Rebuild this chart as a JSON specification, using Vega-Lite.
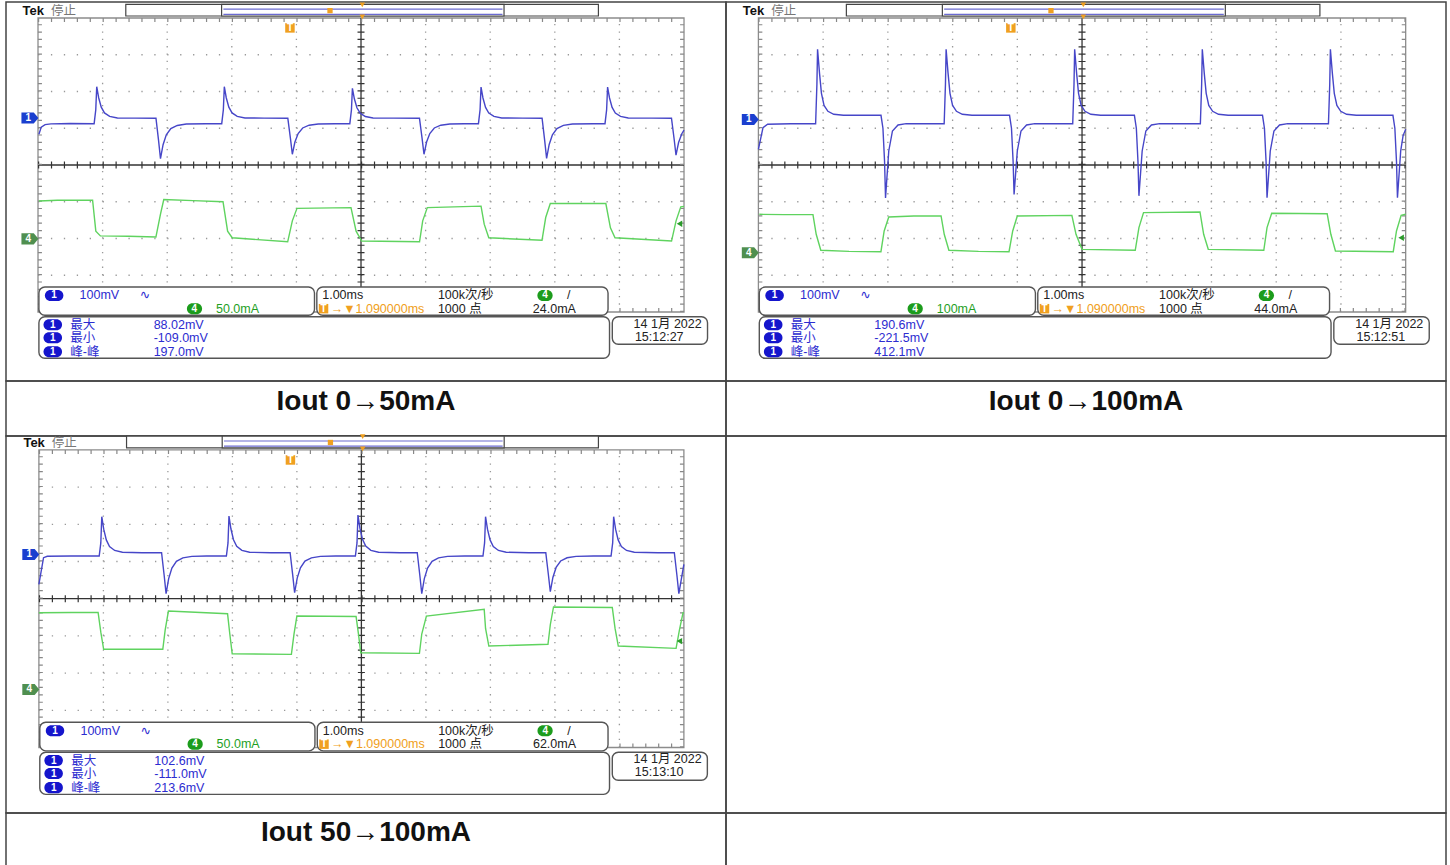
{
"$schema":"https://vega.github.io/schema/vega-lite/v6.json",
"background":"white",
"padding":{"left":5,"top":1,"right":5,"bottom":0},
"columns":2,
"spacing":0,
"bounds":"flush",
"resolve":{"scale":{"x":"independent","y":"independent"}},
"config":{"view":{"stroke":"#444444","strokeWidth":1.5},"concat":{"spacing":0}},
"datasets":{
"grid":[
{"k":"gv","t":1,"t2":1,"v":-4,"v2":4},{"k":"gv","t":2,"t2":2,"v":-4,"v2":4},{"k":"gv","t":3,"t2":3,"v":-4,"v2":4},{"k":"gv","t":4,"t2":4,"v":-4,"v2":4},
{"k":"gv","t":6,"t2":6,"v":-4,"v2":4},{"k":"gv","t":7,"t2":7,"v":-4,"v2":4},{"k":"gv","t":8,"t2":8,"v":-4,"v2":4},{"k":"gv","t":9,"t2":9,"v":-4,"v2":4},
{"k":"gh","t":0,"t2":10,"v":-3,"v2":-3},{"k":"gh","t":0,"t2":10,"v":-2,"v2":-2},{"k":"gh","t":0,"t2":10,"v":-1,"v2":-1},
{"k":"gh","t":0,"t2":10,"v":1,"v2":1},{"k":"gh","t":0,"t2":10,"v":2,"v2":2},{"k":"gh","t":0,"t2":10,"v":3,"v2":3},
{"k":"c","t":5,"t2":5,"v":-4,"v2":4},{"k":"c","t":0,"t2":10,"v":0,"v2":0},
{"k":"tv","t":5,"t2":5,"v":-4,"v2":4},{"k":"th","t":0,"t2":10,"v":0,"v2":0},
{"k":"ev","t":0.03,"t2":0.03,"v":-4,"v2":4},{"k":"ev","t":9.97,"t2":9.97,"v":-4,"v2":4},
{"k":"eh","t":0,"t2":10,"v":3.945,"v2":3.945},{"k":"eh","t":0,"t2":10,"v":-3.945,"v2":-3.945},
{"k":"bd","t":0,"t2":10,"v":-4,"v2":4},
{"k":"rb","t":1.359,"t2":8.675,"v":4.054,"v2":4.373},{"k":"rb","t":2.842,"t2":7.214,"v":4.054,"v2":4.373},
{"k":"rl","t":2.87,"t2":7.19,"v":4.1,"v2":4.1},{"k":"rl","t":2.87,"t2":7.19,"v":4.24,"v2":4.24},
{"k":"bx","t":0.014,"t2":4.28,"v":-3.32,"v2":-4.09},{"k":"bx","t":4.316,"t2":8.824,"v":-3.32,"v2":-4.09},
{"k":"bx","t":0.014,"t2":8.847,"v":-4.128,"v2":-5.26},{"k":"bx","t":8.89,"t2":10.364,"v":-4.128,"v2":-4.879},
{"k":"o1","t":0.107,"t2":0.393,"v":-3.4,"v2":-3.7},{"k":"o1","t":0.085,"t2":0.372,"v":-4.2,"v2":-4.5},
{"k":"o1","t":0.085,"t2":0.372,"v":-4.55,"v2":-4.85},{"k":"o1","t":0.085,"t2":0.372,"v":-4.93,"v2":-5.23},
{"k":"o4","t":2.305,"t2":2.54,"v":-3.76,"v2":-4.06},{"k":"o4","t":7.73,"t2":7.966,"v":-3.4,"v2":-3.7},
{"k":"osq","t":3.9,"v":3.73},{"k":"osq","t":4.42,"v":-3.91},
{"k":"osm","t":4.52,"v":4.2},
{"k":"otr","t":5.02,"v":4.03},{"k":"otr","t":5.02,"v":4.36}
],
"pm":[
{"p":1,"k":"tag1","t":-0.125,"v":1.28},{"p":1,"k":"tag4","t":-0.125,"v":-2.01},{"p":1,"k":"trig","t":9.93,"v":-1.6},
{"p":2,"k":"tag1","t":-0.125,"v":1.24},{"p":2,"k":"tag4","t":-0.125,"v":-2.39},{"p":2,"k":"trig","t":9.93,"v":-1.98},
{"p":3,"k":"tag1","t":-0.125,"v":1.19},{"p":3,"k":"tag4","t":-0.125,"v":-2.44},{"p":3,"k":"trig","t":9.93,"v":-1.14}
],
"txt":[
{"p":0,"r":"tek","t":-0.24,"v":4.19,"s":"Tek"},
{"p":0,"r":"ts","t":0.2,"v":4.19,"s":"停止"},
{"p":0,"r":"w","t":0.25,"v":-3.55,"s":"1"},
{"p":0,"r":"tb","t":0.644,"v":-3.55,"s":"100mV"},
{"p":0,"r":"tb","t":1.574,"v":-3.55,"s":"∿"},
{"p":0,"r":"w","t":2.42,"v":-3.91,"s":"4"},
{"p":0,"r":"tk","t":4.4,"v":-3.55,"s":"1.00ms"},
{"p":0,"r":"tk","t":6.19,"v":-3.55,"s":"100k次/秒"},
{"p":0,"r":"w","t":7.85,"v":-3.55,"s":"4"},
{"p":0,"r":"tk","t":8.19,"v":-3.55,"s":"/"},
{"p":0,"r":"w","t":4.42,"v":-3.91,"s":"T"},
{"p":0,"r":"to","t":4.53,"v":-3.91,"s":"→▼1.090000ms"},
{"p":0,"r":"tk","t":6.19,"v":-3.91,"s":"1000 点"},
{"p":0,"r":"w","t":0.23,"v":-4.35,"s":"1"},{"p":0,"r":"w","t":0.23,"v":-4.7,"s":"1"},{"p":0,"r":"w","t":0.23,"v":-5.08,"s":"1"},
{"p":0,"r":"tb","t":0.5,"v":-4.35,"s":"最大"},{"p":0,"r":"tb","t":0.5,"v":-4.7,"s":"最小"},{"p":0,"r":"tb","t":0.5,"v":-5.08,"s":"峰-峰"},
{"p":0,"r":"tk","t":9.22,"v":-4.32,"s":"14 1月 2022"},
{"p":0,"r":"w","t":3.9,"v":3.73,"s":"T"},
{"p":1,"r":"tg","t":2.755,"v":-3.91,"s":"50.0mA"},
{"p":1,"r":"tk","t":7.66,"v":-3.91,"s":"24.0mA"},
{"p":1,"r":"tb","t":1.79,"v":-4.35,"s":"88.02mV"},{"p":1,"r":"tb","t":1.79,"v":-4.7,"s":"-109.0mV"},{"p":1,"r":"tb","t":1.79,"v":-5.08,"s":"197.0mV"},
{"p":1,"r":"tk","t":9.24,"v":-4.67,"s":"15:12:27"},
{"p":1,"r":"w","t":-0.15,"v":1.28,"s":"1"},{"p":1,"r":"w","t":-0.15,"v":-2.01,"s":"4"},
{"p":2,"r":"tg","t":2.755,"v":-3.91,"s":"100mA"},
{"p":2,"r":"tk","t":7.66,"v":-3.91,"s":"44.0mA"},
{"p":2,"r":"tb","t":1.79,"v":-4.35,"s":"190.6mV"},{"p":2,"r":"tb","t":1.79,"v":-4.7,"s":"-221.5mV"},{"p":2,"r":"tb","t":1.79,"v":-5.08,"s":"412.1mV"},
{"p":2,"r":"tk","t":9.24,"v":-4.67,"s":"15:12:51"},
{"p":2,"r":"w","t":-0.15,"v":1.24,"s":"1"},{"p":2,"r":"w","t":-0.15,"v":-2.39,"s":"4"},
{"p":3,"r":"tg","t":2.755,"v":-3.91,"s":"50.0mA"},
{"p":3,"r":"tk","t":7.66,"v":-3.91,"s":"62.0mA"},
{"p":3,"r":"tb","t":1.79,"v":-4.35,"s":"102.6mV"},{"p":3,"r":"tb","t":1.79,"v":-4.7,"s":"-111.0mV"},{"p":3,"r":"tb","t":1.79,"v":-5.08,"s":"213.6mV"},
{"p":3,"r":"tk","t":9.24,"v":-4.67,"s":"15:13:10"},
{"p":3,"r":"w","t":-0.15,"v":1.19,"s":"1"},{"p":3,"r":"w","t":-0.15,"v":-2.44,"s":"4"}
],
"cap":[
{"p":1,"t":0.5,"v":0.5,"s":"Iout 0→50mA"},
{"p":2,"t":0.5,"v":0.5,"s":"Iout 0→100mA"},
{"p":3,"t":0.5,"v":0.5,"s":"Iout 50→100mA"},
{"p":4,"t":0.5,"v":0.5,"s":""}
],
"b1":[
{"t":0.014,"v":0.835},{"t":0.05,"v":1.03},{"t":0.11,"v":1.1},{"t":0.2,"v":1.12},{"t":0.5,"v":1.13},{"t":0.869,"v":1.124},{"t":0.894,"v":1.5},{"t":0.909,"v":2.131},{"t":0.939,"v":1.83},{"t":0.979,"v":1.572},{"t":1.029,"v":1.417},{"t":1.109,"v":1.323},{"t":1.229,"v":1.28},{"t":1.5,"v":1.275},
{"t":1.826,"v":1.271},{"t":1.866,"v":0.67},{"t":1.896,"v":0.171},{"t":1.936,"v":0.552},{"t":1.986,"v":0.819},{"t":2.056,"v":0.99},{"t":2.156,"v":1.076},{"t":2.296,"v":1.114},{"t":2.6,"v":1.124},
{"t":2.844,"v":1.124},{"t":2.869,"v":1.5},{"t":2.884,"v":2.131},{"t":2.914,"v":1.83},{"t":2.954,"v":1.572},{"t":3.004,"v":1.417},{"t":3.084,"v":1.323},{"t":3.204,"v":1.28},{"t":3.5,"v":1.275},
{"t":3.867,"v":1.271},{"t":3.907,"v":0.732},{"t":3.937,"v":0.291},{"t":3.977,"v":0.624},{"t":4.027,"v":0.857},{"t":4.097,"v":1.007},{"t":4.197,"v":1.082},{"t":4.337,"v":1.116},{"t":4.6,"v":1.124},
{"t":4.827,"v":1.124},{"t":4.852,"v":1.5},{"t":4.867,"v":2.087},{"t":4.897,"v":1.801},{"t":4.937,"v":1.557},{"t":4.987,"v":1.41},{"t":5.067,"v":1.32},{"t":5.187,"v":1.279},{"t":5.5,"v":1.275},
{"t":5.905,"v":1.271},{"t":5.945,"v":0.732},{"t":5.975,"v":0.291},{"t":6.015,"v":0.624},{"t":6.065,"v":0.857},{"t":6.135,"v":1.007},{"t":6.235,"v":1.082},{"t":6.375,"v":1.116},{"t":6.6,"v":1.124},
{"t":6.818,"v":1.124},{"t":6.843,"v":1.5},{"t":6.858,"v":2.12},{"t":6.888,"v":1.823},{"t":6.928,"v":1.568},{"t":6.978,"v":1.415},{"t":7.058,"v":1.322},{"t":7.178,"v":1.28},{"t":7.5,"v":1.275},
{"t":7.803,"v":1.271},{"t":7.843,"v":0.671},{"t":7.873,"v":0.18},{"t":7.913,"v":0.558},{"t":7.963,"v":0.822},{"t":8.033,"v":0.992},{"t":8.133,"v":1.077},{"t":8.273,"v":1.115},{"t":8.6,"v":1.124},
{"t":8.777,"v":1.124},{"t":8.802,"v":1.5},{"t":8.817,"v":2.12},{"t":8.847,"v":1.823},{"t":8.887,"v":1.568},{"t":8.937,"v":1.415},{"t":9.017,"v":1.322},{"t":9.137,"v":1.28},{"t":9.5,"v":1.275},
{"t":9.806,"v":1.271},{"t":9.846,"v":0.72},{"t":9.876,"v":0.27},{"t":9.916,"v":0.612},{"t":9.966,"v":0.851},{"t":10.0,"v":0.95}
],
"g1":[
{"t":0.014,"v":-0.98},{"t":0.3,"v":-0.96},{"t":0.845,"v":-0.96},{"t":0.895,"v":-1.8},{"t":0.966,"v":-1.93},{"t":1.4,"v":-1.94},{"t":1.825,"v":-1.96},{"t":1.896,"v":-1.34},{"t":1.947,"v":-0.94},{"t":2.4,"v":-0.97},{"t":2.864,"v":-1.0},
{"t":2.935,"v":-1.8},{"t":3.006,"v":-1.98},{"t":3.865,"v":-2.09},{"t":3.937,"v":-1.52},{"t":4.009,"v":-1.18},{"t":4.845,"v":-1.16},{"t":4.924,"v":-1.8},{"t":5.011,"v":-2.07},{"t":5.906,"v":-2.09},
{"t":5.955,"v":-1.52},{"t":6.026,"v":-1.16},{"t":6.858,"v":-1.12},{"t":6.907,"v":-1.61},{"t":6.978,"v":-1.98},{"t":7.802,"v":-2.05},{"t":7.859,"v":-1.43},{"t":7.93,"v":-1.05},{"t":8.79,"v":-1.05},
{"t":8.861,"v":-1.71},{"t":8.932,"v":-1.98},{"t":9.807,"v":-2.07},{"t":9.877,"v":-1.52},{"t":9.95,"v":-1.14},{"t":10.0,"v":-1.13}
],
"b2":[
{"t":0.0,"v":0.427},{"t":0.071,"v":1.015},{"t":0.142,"v":1.107},{"t":0.5,"v":1.124},{"t":0.884,"v":1.124},{"t":0.904,"v":2.2},{"t":0.914,"v":3.148},{"t":0.944,"v":2.5},{"t":0.974,"v":1.95},{"t":1.014,"v":1.62},{"t":1.074,"v":1.46},{"t":1.164,"v":1.38},{"t":1.314,"v":1.355},
{"t":1.894,"v":1.352},{"t":1.924,"v":1.0},{"t":1.949,"v":0.1},{"t":1.964,"v":-0.9},{"t":2.014,"v":0.381},{"t":2.071,"v":0.925},{"t":2.157,"v":1.088},{"t":2.284,"v":1.124},
{"t":2.87,"v":1.124},{"t":2.89,"v":2.2},{"t":2.9,"v":3.148},{"t":2.93,"v":2.5},{"t":2.96,"v":1.95},{"t":3.0,"v":1.62},{"t":3.06,"v":1.46},{"t":3.15,"v":1.38},{"t":3.3,"v":1.355},
{"t":3.88,"v":1.352},{"t":3.91,"v":1.0},{"t":3.935,"v":0.1},{"t":3.95,"v":-0.8},{"t":4.0,"v":0.381},{"t":4.057,"v":0.925},{"t":4.143,"v":1.088},{"t":4.27,"v":1.124},
{"t":4.856,"v":1.124},{"t":4.876,"v":2.2},{"t":4.886,"v":3.148},{"t":4.916,"v":2.5},{"t":4.946,"v":1.95},{"t":4.986,"v":1.62},{"t":5.046,"v":1.46},{"t":5.136,"v":1.38},{"t":5.286,"v":1.355},
{"t":5.809,"v":1.352},{"t":5.839,"v":1.0},{"t":5.864,"v":0.1},{"t":5.879,"v":-0.84},{"t":5.929,"v":0.381},{"t":5.986,"v":0.925},{"t":6.072,"v":1.088},{"t":6.199,"v":1.124},
{"t":6.828,"v":1.124},{"t":6.848,"v":2.2},{"t":6.858,"v":3.148},{"t":6.888,"v":2.5},{"t":6.918,"v":1.95},{"t":6.958,"v":1.62},{"t":7.018,"v":1.46},{"t":7.108,"v":1.38},{"t":7.258,"v":1.355},
{"t":7.788,"v":1.352},{"t":7.818,"v":1.0},{"t":7.843,"v":0.1},{"t":7.858,"v":-0.89},{"t":7.908,"v":0.381},{"t":7.965,"v":0.925},{"t":8.051,"v":1.088},{"t":8.178,"v":1.124},
{"t":8.807,"v":1.124},{"t":8.827,"v":2.2},{"t":8.837,"v":3.148},{"t":8.867,"v":2.5},{"t":8.897,"v":1.95},{"t":8.937,"v":1.62},{"t":8.997,"v":1.46},{"t":9.087,"v":1.38},{"t":9.237,"v":1.355},
{"t":9.803,"v":1.352},{"t":9.833,"v":1.0},{"t":9.858,"v":0.1},{"t":9.873,"v":-0.89},{"t":9.923,"v":0.381},{"t":9.96,"v":0.8},{"t":10.0,"v":0.97}
],
"g2":[
{"t":0.014,"v":-1.342},{"t":0.4,"v":-1.35},{"t":0.843,"v":-1.35},{"t":0.893,"v":-1.886},{"t":0.964,"v":-2.322},{"t":1.4,"v":-2.35},{"t":1.893,"v":-2.36},{"t":1.943,"v":-1.796},{"t":2.014,"v":-1.415},{"t":2.4,"v":-1.39},{"t":2.822,"v":-1.388},
{"t":2.871,"v":-1.886},{"t":2.943,"v":-2.322},{"t":3.4,"v":-2.35},{"t":3.872,"v":-2.36},{"t":3.929,"v":-1.796},{"t":4.0,"v":-1.388},{"t":4.843,"v":-1.37},{"t":4.907,"v":-1.886},{"t":5.0,"v":-2.295},{"t":5.822,"v":-2.322},
{"t":5.879,"v":-1.705},{"t":5.95,"v":-1.297},{"t":6.822,"v":-1.279},{"t":6.879,"v":-1.886},{"t":6.95,"v":-2.295},{"t":7.808,"v":-2.322},{"t":7.858,"v":-1.705},{"t":7.93,"v":-1.315},{"t":8.787,"v":-1.325},
{"t":8.844,"v":-1.886},{"t":8.915,"v":-2.34},{"t":9.808,"v":-2.36},{"t":9.858,"v":-1.796},{"t":9.93,"v":-1.37},{"t":10.0,"v":-1.342}
],
"b3":[
{"t":0.0,"v":0.387},{"t":0.072,"v":1.102},{"t":0.13,"v":1.14},{"t":0.5,"v":1.148},{"t":0.935,"v":1.148},{"t":0.96,"v":1.5},{"t":0.975,"v":2.204},{"t":1.005,"v":1.87},{"t":1.045,"v":1.58},{"t":1.095,"v":1.405},{"t":1.175,"v":1.297},{"t":1.295,"v":1.248},{"t":1.6,"v":1.237},
{"t":1.902,"v":1.237},{"t":1.942,"v":0.63},{"t":1.972,"v":0.134},{"t":2.012,"v":0.54},{"t":2.062,"v":0.824},{"t":2.132,"v":1.006},{"t":2.232,"v":1.097},{"t":2.372,"v":1.138},{"t":2.6,"v":1.148},
{"t":2.907,"v":1.148},{"t":2.932,"v":1.5},{"t":2.947,"v":2.223},{"t":2.977,"v":1.88},{"t":3.017,"v":1.586},{"t":3.067,"v":1.409},{"t":3.147,"v":1.298},{"t":3.267,"v":1.249},{"t":3.6,"v":1.237},
{"t":3.895,"v":1.237},{"t":3.935,"v":0.64},{"t":3.965,"v":0.16},{"t":4.005,"v":0.555},{"t":4.055,"v":0.832},{"t":4.125,"v":1.01},{"t":4.225,"v":1.098},{"t":4.365,"v":1.138},{"t":4.6,"v":1.148},
{"t":4.907,"v":1.148},{"t":4.932,"v":1.5},{"t":4.947,"v":2.25},{"t":4.977,"v":1.895},{"t":5.017,"v":1.595},{"t":5.067,"v":1.413},{"t":5.147,"v":1.3},{"t":5.267,"v":1.25},{"t":5.6,"v":1.237},
{"t":5.866,"v":1.237},{"t":5.906,"v":0.63},{"t":5.936,"v":0.134},{"t":5.976,"v":0.54},{"t":6.026,"v":0.824},{"t":6.096,"v":1.006},{"t":6.196,"v":1.097},{"t":6.336,"v":1.138},{"t":6.6,"v":1.148},
{"t":6.885,"v":1.148},{"t":6.91,"v":1.5},{"t":6.925,"v":2.204},{"t":6.955,"v":1.87},{"t":6.995,"v":1.58},{"t":7.045,"v":1.405},{"t":7.125,"v":1.297},{"t":7.245,"v":1.248},{"t":7.6,"v":1.237},
{"t":7.859,"v":1.237},{"t":7.899,"v":0.65},{"t":7.929,"v":0.188},{"t":7.969,"v":0.572},{"t":8.019,"v":0.841},{"t":8.089,"v":1.014},{"t":8.189,"v":1.1},{"t":8.329,"v":1.138},{"t":8.6,"v":1.148},
{"t":8.871,"v":1.148},{"t":8.896,"v":1.5},{"t":8.911,"v":2.204},{"t":8.941,"v":1.87},{"t":8.981,"v":1.58},{"t":9.031,"v":1.405},{"t":9.111,"v":1.297},{"t":9.231,"v":1.248},{"t":9.6,"v":1.237},
{"t":9.852,"v":1.237},{"t":9.892,"v":0.63},{"t":9.922,"v":0.134},{"t":9.962,"v":0.54},{"t":10.0,"v":0.925}
],
"g3":[
{"t":0.0,"v":-0.376},{"t":0.5,"v":-0.37},{"t":0.918,"v":-0.37},{"t":0.96,"v":-0.9},{"t":1.004,"v":-1.36},{"t":1.5,"v":-1.36},{"t":1.921,"v":-1.36},{"t":1.957,"v":-0.85},{"t":2.008,"v":-0.331},{"t":2.925,"v":-0.403},
{"t":2.96,"v":-0.95},{"t":2.997,"v":-1.478},{"t":3.915,"v":-1.496},{"t":3.955,"v":-0.95},{"t":4.0,"v":-0.466},{"t":4.918,"v":-0.48},{"t":4.955,"v":-0.95},{"t":4.99,"v":-1.452},{"t":5.9,"v":-1.47},
{"t":5.936,"v":-0.95},{"t":6.008,"v":-0.466},{"t":6.904,"v":-0.285},{"t":6.925,"v":-0.8},{"t":6.976,"v":-1.272},{"t":7.893,"v":-1.226},{"t":7.929,"v":-0.7},{"t":7.979,"v":-0.223},{"t":8.89,"v":-0.235},
{"t":8.933,"v":-0.8},{"t":8.983,"v":-1.272},{"t":9.879,"v":-1.334},{"t":9.93,"v":-0.85},{"t":9.987,"v":-0.376},{"t":10.0,"v":-0.376}
]
},
"concat":[
{"width":720,"height":379,
"encoding":{"x":{"field":"t","type":"quantitative","scale":{"domain":[-0.4954,10.65],"nice":false,"zero":false},"axis":null},"y":{"field":"v","type":"quantitative","scale":{"domain":[-5.878,4.435],"nice":false,"zero":false},"axis":null}},
"layer":[
{"data":{"name":"grid"},"transform":[{"filter":"datum.k=='bd'"}],"mark":{"type":"rect","fill":"transparent","stroke":"#8c8c8c","strokeWidth":1.3},"encoding":{"x2":{"field":"t2"},"y2":{"field":"v2"}}},
{"data":{"name":"grid"},"transform":[{"filter":"datum.k=='gv'"}],"mark":{"type":"rule","color":"#999999","strokeWidth":1.3,"strokeDash":[1.3,6.05]},"encoding":{"x2":{"field":"t2"},"y2":{"field":"v2"}}},
{"data":{"name":"grid"},"transform":[{"filter":"datum.k=='gh'"}],"mark":{"type":"rule","color":"#999999","strokeWidth":1.3,"strokeDash":[1.3,11.62]},"encoding":{"x2":{"field":"t2"},"y2":{"field":"v2"}}},
{"data":{"name":"grid"},"transform":[{"filter":"datum.k=='c'"}],"mark":{"type":"rule","color":"#333333","strokeWidth":1.3},"encoding":{"x2":{"field":"t2"},"y2":{"field":"v2"}}},
{"data":{"name":"grid"},"transform":[{"filter":"datum.k=='tv'"}],"mark":{"type":"rule","color":"#333333","strokeWidth":7,"strokeDash":[1.2,6.15]},"encoding":{"x2":{"field":"t2"},"y2":{"field":"v2"}}},
{"data":{"name":"grid"},"transform":[{"filter":"datum.k=='th'"}],"mark":{"type":"rule","color":"#333333","strokeWidth":7,"strokeDash":[1.2,11.72]},"encoding":{"x2":{"field":"t2"},"y2":{"field":"v2"}}},
{"data":{"name":"grid"},"transform":[{"filter":"datum.k=='ev'"}],"mark":{"type":"rule","color":"#888888","strokeWidth":4,"strokeDash":[1.2,6.15]},"encoding":{"x2":{"field":"t2"},"y2":{"field":"v2"}}},
{"data":{"name":"grid"},"transform":[{"filter":"datum.k=='eh'"}],"mark":{"type":"rule","color":"#888888","strokeWidth":4,"strokeDash":[1.2,11.72]},"encoding":{"x2":{"field":"t2"},"y2":{"field":"v2"}}},
{"data":{"name":"b1"},"mark":{"type":"line","color":"#4646c8","strokeWidth":1.4}},
{"data":{"name":"g1"},"mark":{"type":"line","color":"#5fd35f","strokeWidth":1.4}},
{"data":{"name":"grid"},"transform":[{"filter":"datum.k=='bx'"}],"mark":{"type":"rect","fill":"white","stroke":"#555555","strokeWidth":1.4,"cornerRadius":6},"encoding":{"x2":{"field":"t2"},"y2":{"field":"v2"}}},
{"data":{"name":"grid"},"transform":[{"filter":"datum.k=='o1'"}],"mark":{"type":"rect","fill":"#1515cc","cornerRadius":5.5},"encoding":{"x2":{"field":"t2"},"y2":{"field":"v2"}}},
{"data":{"name":"grid"},"transform":[{"filter":"datum.k=='o4'"}],"mark":{"type":"rect","fill":"#1c9c1c","cornerRadius":5.5},"encoding":{"x2":{"field":"t2"},"y2":{"field":"v2"}}},
{"data":{"name":"grid"},"transform":[{"filter":"datum.k=='rb'"}],"mark":{"type":"rect","fill":"white","stroke":"#444444","strokeWidth":1.2},"encoding":{"x2":{"field":"t2"},"y2":{"field":"v2"}}},
{"data":{"name":"grid"},"transform":[{"filter":"datum.k=='rl'"}],"mark":{"type":"rule","color":"#6a6ad0","strokeWidth":1.2},"encoding":{"x2":{"field":"t2"},"y2":{"field":"v2"}}},
{"data":{"name":"grid"},"transform":[{"filter":"datum.k=='osq'"}],"mark":{"type":"point","shape":"square","filled":true,"color":"#f0a020","size":90,"opacity":1}},
{"data":{"name":"grid"},"transform":[{"filter":"datum.k=='osm'"}],"mark":{"type":"point","shape":"square","filled":true,"color":"#f0a020","size":28,"opacity":1}},
{"data":{"name":"grid"},"transform":[{"filter":"datum.k=='otr'"}],"mark":{"type":"point","shape":"triangle-down","filled":true,"color":"#f0a020","size":30,"opacity":1}},
{"data":{"name":"pm"},"transform":[{"filter":"datum.p==1 && datum.k=='tag1'"}],"mark":{"type":"point","shape":"M-1,-0.65L0.45,-0.65L1,0L0.45,0.65L-1,0.65Z","filled":true,"color":"#1a3fcf","size":289,"opacity":1}},
{"data":{"name":"pm"},"transform":[{"filter":"datum.p==1 && datum.k=='tag4'"}],"mark":{"type":"point","shape":"M-1,-0.65L0.45,-0.65L1,0L0.45,0.65L-1,0.65Z","filled":true,"color":"#4f8f4f","size":289,"opacity":1}},
{"data":{"name":"pm"},"transform":[{"filter":"datum.p==1 && datum.k=='trig'"}],"mark":{"type":"point","shape":"triangle-left","filled":true,"color":"#2a9a2a","size":40,"opacity":1}},
{"data":{"name":"txt"},"transform":[{"filter":"(datum.p==0 || datum.p==1) && indexof(['tb','tg','tk','to','ts'], datum.r) >= 0"}],"mark":{"type":"text","align":"left","baseline":"middle","font":"Liberation Sans, Noto Sans CJK SC, DejaVu Sans","fontSize":12.5},"encoding":{"text":{"field":"s"},"color":{"field":"r","type":"nominal","scale":{"domain":["tb","tg","tk","to","ts"],"range":["#2c2cd0","#1f9f1f","#222222","#f0a020","#777777"]},"legend":null}}},
{"data":{"name":"txt"},"transform":[{"filter":"(datum.p==0 || datum.p==1) && datum.r=='w'"}],"mark":{"type":"text","align":"center","baseline":"middle","font":"Liberation Sans","fontSize":10,"fontWeight":"bold","color":"white"},"encoding":{"text":{"field":"s"}}},
{"data":{"name":"txt"},"transform":[{"filter":"datum.r=='tek'"}],"mark":{"type":"text","align":"left","baseline":"middle","font":"Liberation Sans","fontSize":13,"fontWeight":"bold","color":"#111111"},"encoding":{"text":{"field":"s"}}}
]},
{"width":720,"height":379,
"encoding":{"x":{"field":"t","type":"quantitative","scale":{"domain":[-0.5006,10.623],"nice":false,"zero":false},"axis":null},"y":{"field":"v","type":"quantitative","scale":{"domain":[-5.878,4.435],"nice":false,"zero":false},"axis":null}},
"layer":[
{"data":{"name":"grid"},"transform":[{"filter":"datum.k=='bd'"}],"mark":{"type":"rect","fill":"transparent","stroke":"#8c8c8c","strokeWidth":1.3},"encoding":{"x2":{"field":"t2"},"y2":{"field":"v2"}}},
{"data":{"name":"grid"},"transform":[{"filter":"datum.k=='gv'"}],"mark":{"type":"rule","color":"#999999","strokeWidth":1.3,"strokeDash":[1.3,6.05]},"encoding":{"x2":{"field":"t2"},"y2":{"field":"v2"}}},
{"data":{"name":"grid"},"transform":[{"filter":"datum.k=='gh'"}],"mark":{"type":"rule","color":"#999999","strokeWidth":1.3,"strokeDash":[1.3,11.62]},"encoding":{"x2":{"field":"t2"},"y2":{"field":"v2"}}},
{"data":{"name":"grid"},"transform":[{"filter":"datum.k=='c'"}],"mark":{"type":"rule","color":"#333333","strokeWidth":1.3},"encoding":{"x2":{"field":"t2"},"y2":{"field":"v2"}}},
{"data":{"name":"grid"},"transform":[{"filter":"datum.k=='tv'"}],"mark":{"type":"rule","color":"#333333","strokeWidth":7,"strokeDash":[1.2,6.15]},"encoding":{"x2":{"field":"t2"},"y2":{"field":"v2"}}},
{"data":{"name":"grid"},"transform":[{"filter":"datum.k=='th'"}],"mark":{"type":"rule","color":"#333333","strokeWidth":7,"strokeDash":[1.2,11.72]},"encoding":{"x2":{"field":"t2"},"y2":{"field":"v2"}}},
{"data":{"name":"grid"},"transform":[{"filter":"datum.k=='ev'"}],"mark":{"type":"rule","color":"#888888","strokeWidth":4,"strokeDash":[1.2,6.15]},"encoding":{"x2":{"field":"t2"},"y2":{"field":"v2"}}},
{"data":{"name":"grid"},"transform":[{"filter":"datum.k=='eh'"}],"mark":{"type":"rule","color":"#888888","strokeWidth":4,"strokeDash":[1.2,11.72]},"encoding":{"x2":{"field":"t2"},"y2":{"field":"v2"}}},
{"data":{"name":"b2"},"mark":{"type":"line","color":"#4646c8","strokeWidth":1.4}},
{"data":{"name":"g2"},"mark":{"type":"line","color":"#5fd35f","strokeWidth":1.4}},
{"data":{"name":"grid"},"transform":[{"filter":"datum.k=='bx'"}],"mark":{"type":"rect","fill":"white","stroke":"#555555","strokeWidth":1.4,"cornerRadius":6},"encoding":{"x2":{"field":"t2"},"y2":{"field":"v2"}}},
{"data":{"name":"grid"},"transform":[{"filter":"datum.k=='o1'"}],"mark":{"type":"rect","fill":"#1515cc","cornerRadius":5.5},"encoding":{"x2":{"field":"t2"},"y2":{"field":"v2"}}},
{"data":{"name":"grid"},"transform":[{"filter":"datum.k=='o4'"}],"mark":{"type":"rect","fill":"#1c9c1c","cornerRadius":5.5},"encoding":{"x2":{"field":"t2"},"y2":{"field":"v2"}}},
{"data":{"name":"grid"},"transform":[{"filter":"datum.k=='rb'"}],"mark":{"type":"rect","fill":"white","stroke":"#444444","strokeWidth":1.2},"encoding":{"x2":{"field":"t2"},"y2":{"field":"v2"}}},
{"data":{"name":"grid"},"transform":[{"filter":"datum.k=='rl'"}],"mark":{"type":"rule","color":"#6a6ad0","strokeWidth":1.2},"encoding":{"x2":{"field":"t2"},"y2":{"field":"v2"}}},
{"data":{"name":"grid"},"transform":[{"filter":"datum.k=='osq'"}],"mark":{"type":"point","shape":"square","filled":true,"color":"#f0a020","size":90,"opacity":1}},
{"data":{"name":"grid"},"transform":[{"filter":"datum.k=='osm'"}],"mark":{"type":"point","shape":"square","filled":true,"color":"#f0a020","size":28,"opacity":1}},
{"data":{"name":"grid"},"transform":[{"filter":"datum.k=='otr'"}],"mark":{"type":"point","shape":"triangle-down","filled":true,"color":"#f0a020","size":30,"opacity":1}},
{"data":{"name":"pm"},"transform":[{"filter":"datum.p==2 && datum.k=='tag1'"}],"mark":{"type":"point","shape":"M-1,-0.65L0.45,-0.65L1,0L0.45,0.65L-1,0.65Z","filled":true,"color":"#1a3fcf","size":289,"opacity":1}},
{"data":{"name":"pm"},"transform":[{"filter":"datum.p==2 && datum.k=='tag4'"}],"mark":{"type":"point","shape":"M-1,-0.65L0.45,-0.65L1,0L0.45,0.65L-1,0.65Z","filled":true,"color":"#4f8f4f","size":289,"opacity":1}},
{"data":{"name":"pm"},"transform":[{"filter":"datum.p==2 && datum.k=='trig'"}],"mark":{"type":"point","shape":"triangle-left","filled":true,"color":"#2a9a2a","size":40,"opacity":1}},
{"data":{"name":"txt"},"transform":[{"filter":"(datum.p==0 || datum.p==2) && indexof(['tb','tg','tk','to','ts'], datum.r) >= 0"}],"mark":{"type":"text","align":"left","baseline":"middle","font":"Liberation Sans, Noto Sans CJK SC, DejaVu Sans","fontSize":12.5},"encoding":{"text":{"field":"s"},"color":{"field":"r","type":"nominal","scale":{"domain":["tb","tg","tk","to","ts"],"range":["#2c2cd0","#1f9f1f","#222222","#f0a020","#777777"]},"legend":null}}},
{"data":{"name":"txt"},"transform":[{"filter":"(datum.p==0 || datum.p==2) && datum.r=='w'"}],"mark":{"type":"text","align":"center","baseline":"middle","font":"Liberation Sans","fontSize":10,"fontWeight":"bold","color":"white"},"encoding":{"text":{"field":"s"}}},
{"data":{"name":"txt"},"transform":[{"filter":"datum.r=='tek'"}],"mark":{"type":"text","align":"left","baseline":"middle","font":"Liberation Sans","fontSize":13,"fontWeight":"bold","color":"#111111"},"encoding":{"text":{"field":"s"}}}
]},
{"width":720,"height":55,"data":{"name":"cap"},"transform":[{"filter":"datum.p==1"}],"mark":{"type":"text","font":"Liberation Sans, DejaVu Sans","fontWeight":"bold","fontSize":28,"color":"#111111","dy":-7},"encoding":{"x":{"field":"t","type":"quantitative","scale":{"domain":[0,1]},"axis":null},"y":{"field":"v","type":"quantitative","scale":{"domain":[0,1]},"axis":null},"text":{"field":"s"}}},
{"width":720,"height":55,"data":{"name":"cap"},"transform":[{"filter":"datum.p==2"}],"mark":{"type":"text","font":"Liberation Sans, DejaVu Sans","fontWeight":"bold","fontSize":28,"color":"#111111","dy":-7},"encoding":{"x":{"field":"t","type":"quantitative","scale":{"domain":[0,1]},"axis":null},"y":{"field":"v","type":"quantitative","scale":{"domain":[0,1]},"axis":null},"text":{"field":"s"}}},
{"width":720,"height":377,
"encoding":{"x":{"field":"t","type":"quantitative","scale":{"domain":[-0.51,10.653],"nice":false,"zero":false},"axis":null},"y":{"field":"v","type":"quantitative","scale":{"domain":[-5.761,4.374],"nice":false,"zero":false},"axis":null}},
"layer":[
{"data":{"name":"grid"},"transform":[{"filter":"datum.k=='bd'"}],"mark":{"type":"rect","fill":"transparent","stroke":"#8c8c8c","strokeWidth":1.3},"encoding":{"x2":{"field":"t2"},"y2":{"field":"v2"}}},
{"data":{"name":"grid"},"transform":[{"filter":"datum.k=='gv'"}],"mark":{"type":"rule","color":"#999999","strokeWidth":1.3,"strokeDash":[1.3,6.14]},"encoding":{"x2":{"field":"t2"},"y2":{"field":"v2"}}},
{"data":{"name":"grid"},"transform":[{"filter":"datum.k=='gh'"}],"mark":{"type":"rule","color":"#999999","strokeWidth":1.3,"strokeDash":[1.3,11.6]},"encoding":{"x2":{"field":"t2"},"y2":{"field":"v2"}}},
{"data":{"name":"grid"},"transform":[{"filter":"datum.k=='c'"}],"mark":{"type":"rule","color":"#333333","strokeWidth":1.3},"encoding":{"x2":{"field":"t2"},"y2":{"field":"v2"}}},
{"data":{"name":"grid"},"transform":[{"filter":"datum.k=='tv'"}],"mark":{"type":"rule","color":"#333333","strokeWidth":7,"strokeDash":[1.2,6.24]},"encoding":{"x2":{"field":"t2"},"y2":{"field":"v2"}}},
{"data":{"name":"grid"},"transform":[{"filter":"datum.k=='th'"}],"mark":{"type":"rule","color":"#333333","strokeWidth":7,"strokeDash":[1.2,11.7]},"encoding":{"x2":{"field":"t2"},"y2":{"field":"v2"}}},
{"data":{"name":"grid"},"transform":[{"filter":"datum.k=='ev'"}],"mark":{"type":"rule","color":"#888888","strokeWidth":4,"strokeDash":[1.2,6.24]},"encoding":{"x2":{"field":"t2"},"y2":{"field":"v2"}}},
{"data":{"name":"grid"},"transform":[{"filter":"datum.k=='eh'"}],"mark":{"type":"rule","color":"#888888","strokeWidth":4,"strokeDash":[1.2,11.7]},"encoding":{"x2":{"field":"t2"},"y2":{"field":"v2"}}},
{"data":{"name":"b3"},"mark":{"type":"line","color":"#4646c8","strokeWidth":1.4}},
{"data":{"name":"g3"},"mark":{"type":"line","color":"#5fd35f","strokeWidth":1.4}},
{"data":{"name":"grid"},"transform":[{"filter":"datum.k=='bx'"}],"mark":{"type":"rect","fill":"white","stroke":"#555555","strokeWidth":1.4,"cornerRadius":6},"encoding":{"x2":{"field":"t2"},"y2":{"field":"v2"}}},
{"data":{"name":"grid"},"transform":[{"filter":"datum.k=='o1'"}],"mark":{"type":"rect","fill":"#1515cc","cornerRadius":5.5},"encoding":{"x2":{"field":"t2"},"y2":{"field":"v2"}}},
{"data":{"name":"grid"},"transform":[{"filter":"datum.k=='o4'"}],"mark":{"type":"rect","fill":"#1c9c1c","cornerRadius":5.5},"encoding":{"x2":{"field":"t2"},"y2":{"field":"v2"}}},
{"data":{"name":"grid"},"transform":[{"filter":"datum.k=='rb'"}],"mark":{"type":"rect","fill":"white","stroke":"#444444","strokeWidth":1.2},"encoding":{"x2":{"field":"t2"},"y2":{"field":"v2"}}},
{"data":{"name":"grid"},"transform":[{"filter":"datum.k=='rl'"}],"mark":{"type":"rule","color":"#6a6ad0","strokeWidth":1.2},"encoding":{"x2":{"field":"t2"},"y2":{"field":"v2"}}},
{"data":{"name":"grid"},"transform":[{"filter":"datum.k=='osq'"}],"mark":{"type":"point","shape":"square","filled":true,"color":"#f0a020","size":90,"opacity":1}},
{"data":{"name":"grid"},"transform":[{"filter":"datum.k=='osm'"}],"mark":{"type":"point","shape":"square","filled":true,"color":"#f0a020","size":28,"opacity":1}},
{"data":{"name":"grid"},"transform":[{"filter":"datum.k=='otr'"}],"mark":{"type":"point","shape":"triangle-down","filled":true,"color":"#f0a020","size":30,"opacity":1}},
{"data":{"name":"pm"},"transform":[{"filter":"datum.p==3 && datum.k=='tag1'"}],"mark":{"type":"point","shape":"M-1,-0.65L0.45,-0.65L1,0L0.45,0.65L-1,0.65Z","filled":true,"color":"#1a3fcf","size":289,"opacity":1}},
{"data":{"name":"pm"},"transform":[{"filter":"datum.p==3 && datum.k=='tag4'"}],"mark":{"type":"point","shape":"M-1,-0.65L0.45,-0.65L1,0L0.45,0.65L-1,0.65Z","filled":true,"color":"#4f8f4f","size":289,"opacity":1}},
{"data":{"name":"pm"},"transform":[{"filter":"datum.p==3 && datum.k=='trig'"}],"mark":{"type":"point","shape":"triangle-left","filled":true,"color":"#2a9a2a","size":40,"opacity":1}},
{"data":{"name":"txt"},"transform":[{"filter":"(datum.p==0 || datum.p==3) && indexof(['tb','tg','tk','to','ts'], datum.r) >= 0"}],"mark":{"type":"text","align":"left","baseline":"middle","font":"Liberation Sans, Noto Sans CJK SC, DejaVu Sans","fontSize":12.5},"encoding":{"text":{"field":"s"},"color":{"field":"r","type":"nominal","scale":{"domain":["tb","tg","tk","to","ts"],"range":["#2c2cd0","#1f9f1f","#222222","#f0a020","#777777"]},"legend":null}}},
{"data":{"name":"txt"},"transform":[{"filter":"(datum.p==0 || datum.p==3) && datum.r=='w'"}],"mark":{"type":"text","align":"center","baseline":"middle","font":"Liberation Sans","fontSize":10,"fontWeight":"bold","color":"white"},"encoding":{"text":{"field":"s"}}},
{"data":{"name":"txt"},"transform":[{"filter":"datum.r=='tek'"}],"mark":{"type":"text","align":"left","baseline":"middle","font":"Liberation Sans","fontSize":13,"fontWeight":"bold","color":"#111111"},"encoding":{"text":{"field":"s"}}}
]},
{"width":720,"height":377,"data":{"name":"cap"},"transform":[{"filter":"datum.p==4"}],"mark":{"type":"text"},"encoding":{"x":{"field":"t","type":"quantitative","scale":{"domain":[0,1]},"axis":null},"y":{"field":"v","type":"quantitative","scale":{"domain":[0,1]},"axis":null},"text":{"field":"s"}}},
{"width":720,"height":54,"data":{"name":"cap"},"transform":[{"filter":"datum.p==3"}],"mark":{"type":"text","font":"Liberation Sans, DejaVu Sans","fontWeight":"bold","fontSize":28,"color":"#111111","dy":-7},"encoding":{"x":{"field":"t","type":"quantitative","scale":{"domain":[0,1]},"axis":null},"y":{"field":"v","type":"quantitative","scale":{"domain":[0,1]},"axis":null},"text":{"field":"s"}}},
{"width":720,"height":54,"data":{"name":"cap"},"transform":[{"filter":"datum.p==4"}],"mark":{"type":"text"},"encoding":{"x":{"field":"t","type":"quantitative","scale":{"domain":[0,1]},"axis":null},"y":{"field":"v","type":"quantitative","scale":{"domain":[0,1]},"axis":null},"text":{"field":"s"}}}
]
}
